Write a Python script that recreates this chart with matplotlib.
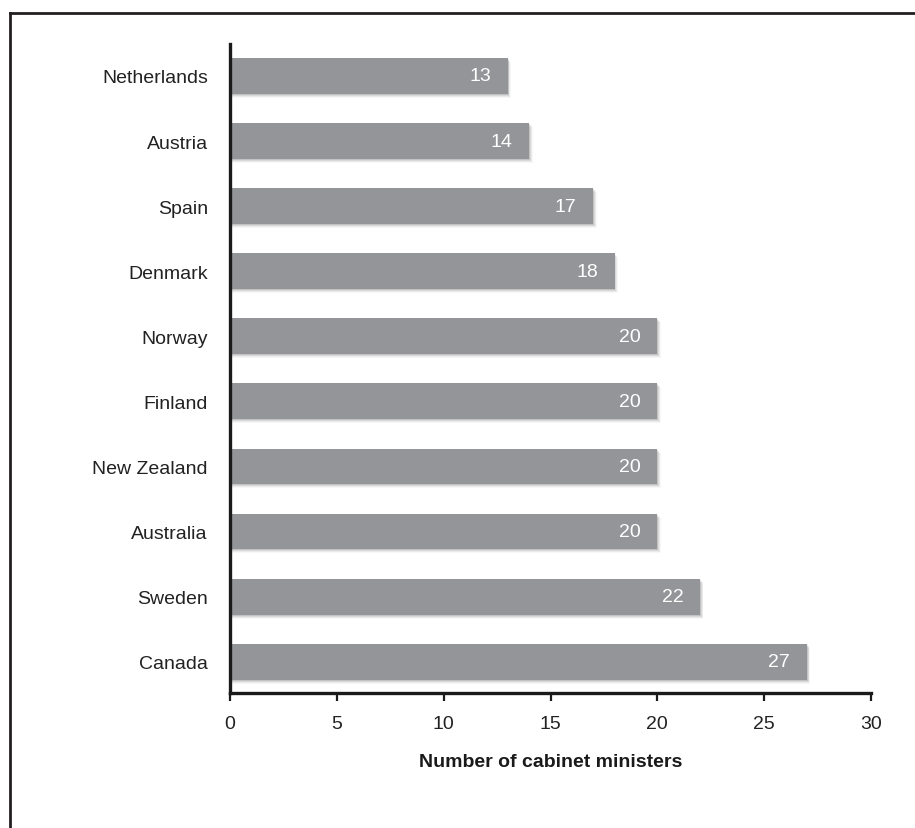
import matplotlib.pyplot as plt
from matplotlib.lines import Line2D

plt.rcParams['font.family'] = ['Liberation Sans', 'DejaVu Sans']

countries = ['Canada', 'Sweden', 'Australia', 'New Zealand', 'Finland',
             'Norway', 'Denmark', 'Spain', 'Austria', 'Netherlands']
ministers = [27, 22, 20, 20, 20, 20, 18, 17, 14, 13]
x_ticks = [0, 5, 10, 15, 20, 25, 30]

fig = plt.figure(figsize=(9.15, 8.29), dpi=100)
ax = fig.add_axes([0.2514, 0.1628, 0.7005, 0.7829])

pos = range(len(countries))
bar_h = 0.55

# soft drop shadow under each bar
for k, a in enumerate([0.10, 0.07, 0.05, 0.03]):
    dy = 0.015 * (k + 1)
    ax.barh([p - dy for p in pos], [v + 0.04 * (k + 1) for v in ministers],
            height=bar_h, color='#000000', alpha=a, linewidth=0, zorder=1)

ax.barh(pos, ministers, height=bar_h, color='#939598', linewidth=0, zorder=2)

for p, v in zip(pos, ministers):
    ax.annotate(str(v), xy=(v, p), xytext=(-12, 0), textcoords='offset points',
                ha='right', va='center', color='white', fontsize=14, zorder=3)

ax.set_xlim(0, 30)
ax.set_ylim(-0.48, 9.49)
ax.set_xticks(x_ticks)
ax.set_yticks(list(pos))
ax.set_yticklabels(countries)
ax.tick_params(axis='y', length=0, pad=16, labelsize=14, labelcolor='#222222')
ax.tick_params(axis='x', length=6, width=1.6, pad=10, labelsize=14,
               labelcolor='#222222', color='#1a1a1a')
ax.set_xlabel('Number of cabinet ministers', fontsize=14, fontweight='bold',
              color='#1a1a1a', labelpad=15)

for s in ['top', 'right']:
    ax.spines[s].set_visible(False)
for s in ['left', 'bottom']:
    ax.spines[s].set_linewidth(2.4)
    ax.spines[s].set_color('#1a1a1a')

# outer frame, cut off on the right and bottom
fx = 9.5 / 915
fy = 1 - 14 / 829
fig.add_artist(Line2D([fx, fx], [0, fy], color='#231f20', linewidth=2))
fig.add_artist(Line2D([fx, 1], [fy, fy], color='#231f20', linewidth=2))

fig.savefig('out.png', dpi=100)
